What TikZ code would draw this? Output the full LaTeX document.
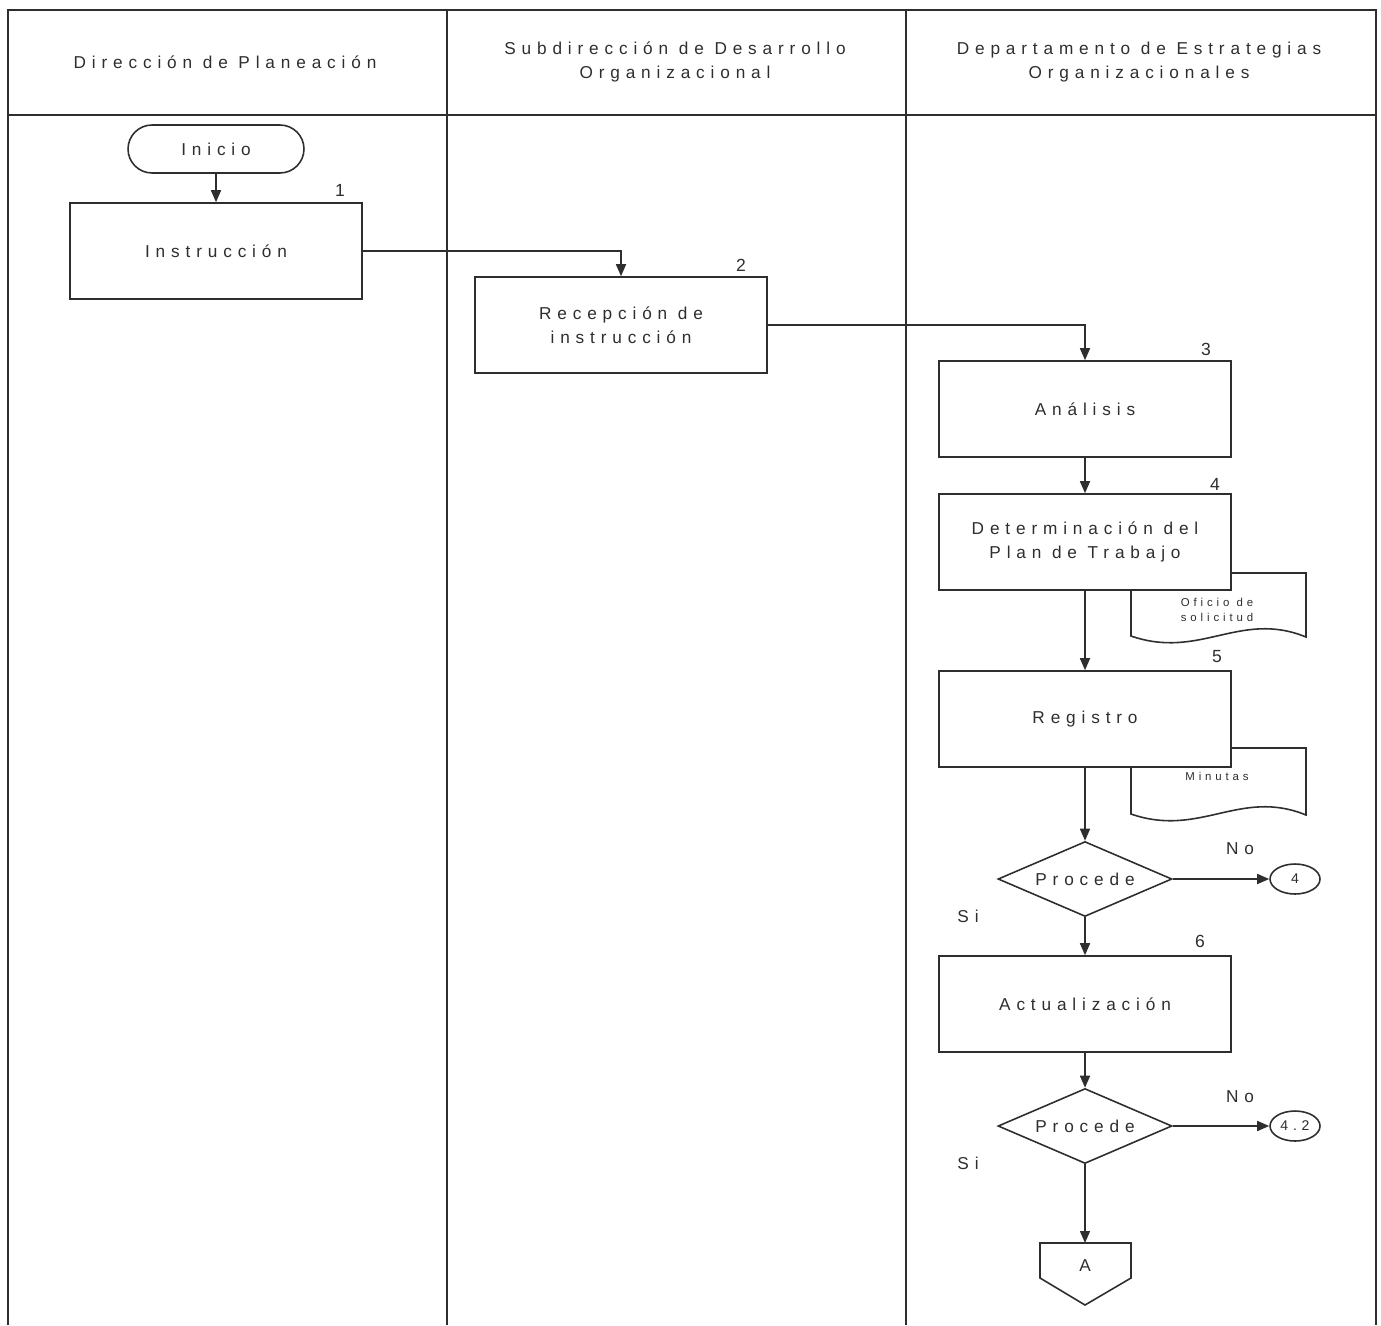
\documentclass[tikz,border=0pt]{standalone}
\usepackage{fontspec}
\setmainfont{Liberation Sans}
\newfontfamily\spacedfont[LetterSpace=34]{Liberation Sans}
\usetikzlibrary{positioning,arrows.meta,shapes.geometric}
\definecolor{inkGray}{HTML}{2E2E2E}

\begin{document}
\begin{tikzpicture}[x=0.02cm, y=-0.02cm,
    every node/.style={font=\spacedfont\fontsize{9.8}{13.5}\selectfont, text=inkGray},
    lane/.style={draw=inkGray, line width=0.9pt},
    term/.style={draw=inkGray, fill=white, line width=0.9pt, rounded corners=4.8mm,
                 minimum width=3.52cm, minimum height=0.96cm},
    proc/.style={draw=inkGray, fill=white, line width=0.9pt, align=center,
                 minimum width=5.84cm, minimum height=1.92cm, inner sep=2pt},
    decide/.style={draw=inkGray, fill=white, diamond, line width=0.9pt, aspect=2.3,
                   minimum width=3.48cm, minimum height=1.5cm, inner sep=0pt},
    conn/.style={draw=inkGray, fill=white, ellipse, line width=0.9pt,
                 minimum width=1cm, minimum height=0.6cm, inner sep=0pt,
                 font=\spacedfont\fontsize{8}{10}\selectfont},
    doc/.style={draw=inkGray, fill=white, line width=0.9pt},
    doctext/.style={font=\spacedfont\fontsize{6.5}{8.5}\selectfont, align=center},
    num/.style={font=\fontsize{10}{12}\selectfont},
    arr/.style={-{Triangle[length=2.4mm, width=2mm]}, draw=inkGray, line width=0.9pt}]
  \useasboundingbox (0,0) rectangle (1381,1325);

  % swimlanes
  \draw[lane] (8,1325) -- (8,10) -- (1376,10) -- (1376,1325);
  \draw[lane] (8,115) -- (1376,115);
  \draw[lane] (447,10) -- (447,1325);
  \draw[lane] (906,10) -- (906,1325);
  \node[align=center] (hdPlan) at (225,62) {Dirección de Planeación};
  \node[align=center] (hdSub) at (675,62) {Subdirección de Desarrollo\\Organizacional};
  \node[align=center] (hdDep) at (1139,62) {Departamento de Estrategias\\Organizacionales};

  % documents (behind the boxes)
  \draw[doc] (1131,573) -- (1306,573) -- (1306,637)
    .. controls (1240,610) and (1200,660) .. (1131,636) -- cycle;
  \node[doctext] (dOficio) at (1217,610) {Oficio de\\solicitud};
  \draw[doc] (1131,748) -- (1306,748) -- (1306,815)
    .. controls (1240,788) and (1200,838) .. (1131,814) -- cycle;
  \node[doctext] (dMinutas) at (1217,776) {Minutas};

  % steps
  \node[term] (inicio) at (216,149) {Inicio};
  \node[proc] (instr) at (216,251) {Instrucción};
  \node[proc] (recep) at (621,325) {Recepción de\\instrucción};
  \node[proc] (anal) at (1085,409) {Análisis};
  \node[proc] (plan) at (1085,542) {Determinación del\\Plan de Trabajo};
  \node[proc] (regis) at (1085,719) {Registro};
  \node[decide] (proc1) at (1085,879) {Procede};
  \node[proc] (actua) at (1085,1004) {Actualización};
  \node[decide] (proc2) at (1085,1126) {Procede};
  \node[conn] (c4) at (1295,879) {4};
  \node[conn] (c42) at (1295,1126) {4.2};

  % off-page connector
  \draw[doc] (1040,1243) -- (1131,1243) -- (1131,1278) -- (1085,1305)
    -- (1040,1278) -- cycle;
  \node (offA) at (1085,1266) {A};
  \coordinate (offTop) at (1085,1243);

  % step numbers
  \node[num] (n1) at (340,190) {1};
  \node[num] (n2) at (741,265) {2};
  \node[num] (n3) at (1206,349) {3};
  \node[num] (n4) at (1215,484) {4};
  \node[num] (n5) at (1217,657) {5};
  \node[num] (n6) at (1200,941) {6};

  % answers
  \node (no1) at (1240,849) {No};
  \node (si1) at (968,916) {Si};
  \node (no2) at (1240,1097) {No};
  \node (si2) at (968,1163) {Si};

  % flow
  \draw[arr] (inicio) -- (instr);
  \draw[arr] (instr.east) -| (recep.north);
  \draw[arr] (recep.east) -| (anal.north);
  \draw[arr] (anal) -- (plan);
  \draw[arr] (plan) -- (regis);
  \draw[arr] (regis) -- (proc1);
  \draw[arr] (proc1) -- (c4);
  \draw[arr] (proc1) -- (actua);
  \draw[arr] (actua) -- (proc2);
  \draw[arr] (proc2) -- (c42);
  \draw[arr] (proc2) -- (offTop);
\end{tikzpicture}
\end{document}
